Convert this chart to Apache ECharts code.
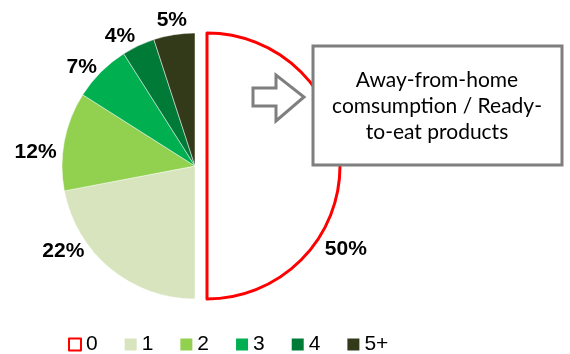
<!DOCTYPE html>
<html>
<head>
<meta charset="utf-8">
<script src="https://cdn.jsdelivr.net/npm/echarts@6/dist/echarts.min.js"></script>
<style>
  html, body { margin: 0; padding: 0; background: #fff; }
  #chart { width: 570px; height: 354px; }
</style>
</head>
<body>
<div id="chart"></div>
<script>
// Share of households by number of away-from-home / ready-to-eat consumption items
const categories = ['0', '1', '2', '3', '4', '5+'];
const shares = [50, 22, 12, 7, 4, 5];
const sliceColors = ['#ffffff', '#d7e4bd', '#92d050', '#00b050', '#007a37', '#333a1a'];
const calloutLines = ['Away-from-home', 'comsumption / Ready-', 'to-eat products'];

// pie geometry
const pieCenter = [195, 166];
const pieRadius = 133;
const explode = 12;
// value labels: polar placement around the slice centre,
// angle in degrees clockwise from 12 o'clock, distance in px
const labelAngle = [121, 237, 275, 311, 330, 351];
const labelDist = [162, 157, 160, 150, 150, 148];

const chart = echarts.init(document.getElementById('chart'), null, { renderer: 'canvas' });

const labelFont = {
  fontFamily: 'Liberation Sans, Arial, sans-serif',
  fontWeight: 'bold',
  fontSize: 21,
  color: '#000'
};

function polarLabel(centre, i) {
  const a = labelAngle[i] * Math.PI / 180;
  return {
    x: centre[0] + labelDist[i] * Math.sin(a),
    y: centre[1] - labelDist[i] * Math.cos(a),
    align: 'center',
    verticalAlign: 'middle'
  };
}

// the "0" slice is pulled out to the right (it spans 12 to 6 o'clock)
const explodedCentre = [pieCenter[0] + explode, pieCenter[1]];
const restShare = shares.slice(1).reduce((s, v) => s + v, 0);

const explodedData = [
  {
    name: categories[0],
    value: shares[0],
    itemStyle: { color: sliceColors[0], borderColor: '#ff0000', borderWidth: 3 }
  },
  {
    name: 'rest',
    value: restShare,
    itemStyle: { color: 'transparent' },
    label: { show: false }
  }
];

const mainData = categories.map((name, i) => ({
  name,
  value: shares[i],
  itemStyle: i === 0
    ? { color: 'transparent', borderWidth: 0 }
    : { color: sliceColors[i], borderColor: 'rgba(255,255,255,0.6)', borderWidth: 0.8 },
  label: { show: i !== 0 }
}));

// legend: the "0" swatch keeps its red outline, the others are plain squares
const legendData = categories.map((name, i) =>
  i === 0 ? { name } : { name, itemStyle: { borderWidth: 0 } });

chart.setOption({
  animation: false,
  legend: {
    data: legendData,
    left: 68,
    top: 334,
    padding: 0,
    icon: 'rect',
    itemWidth: 12,
    itemHeight: 12,
    itemGap: 27,
    selectedMode: false,
    textStyle: { fontFamily: 'Liberation Sans, Arial, sans-serif', fontSize: 21, color: '#000' }
  },
  series: [
    {
      type: 'pie',
      center: explodedCentre,
      radius: [0, pieRadius],
      startAngle: 90,
      clockwise: true,
      silent: true,
      avoidLabelOverlap: false,
      emphasis: { disabled: true },
      label: Object.assign({ show: true, position: 'outside', formatter: '{c}%' }, labelFont),
      labelLine: { show: false },
      labelLayout: () => polarLabel(explodedCentre, 0),
      data: explodedData
    },
    {
      type: 'pie',
      center: pieCenter,
      radius: [0, pieRadius],
      startAngle: 90,
      clockwise: true,
      silent: true,
      avoidLabelOverlap: false,
      emphasis: { disabled: true },
      label: Object.assign({ show: true, position: 'outside', formatter: '{c}%' }, labelFont),
      labelLine: { show: false },
      labelLayout: (params) => polarLabel(pieCenter, params.dataIndex),
      data: mainData
    }
  ],
  graphic: [
    {
      // hollow block arrow pointing to the callout
      type: 'polygon',
      z: 10,
      shape: { points: [[253, 88], [276, 88], [276, 75], [304, 97], [276, 121], [276, 106], [253, 106]] },
      style: { fill: '#fff', stroke: '#7f7f7f', lineWidth: 3 }
    },
    {
      type: 'rect',
      z: 10,
      shape: { x: 313, y: 46, width: 249, height: 119 },
      style: { fill: '#fff', stroke: '#7f7f7f', lineWidth: 3 }
    },
    {
      type: 'text',
      z: 11,
      x: 437,
      y: 106,
      style: {
        text: calloutLines.join('\n'),
        fill: '#000',
        font: '21px Lato, sans-serif',
        lineHeight: 26,
        align: 'center',
        verticalAlign: 'middle'
      }
    }
  ]
});
</script>
</body>
</html>
